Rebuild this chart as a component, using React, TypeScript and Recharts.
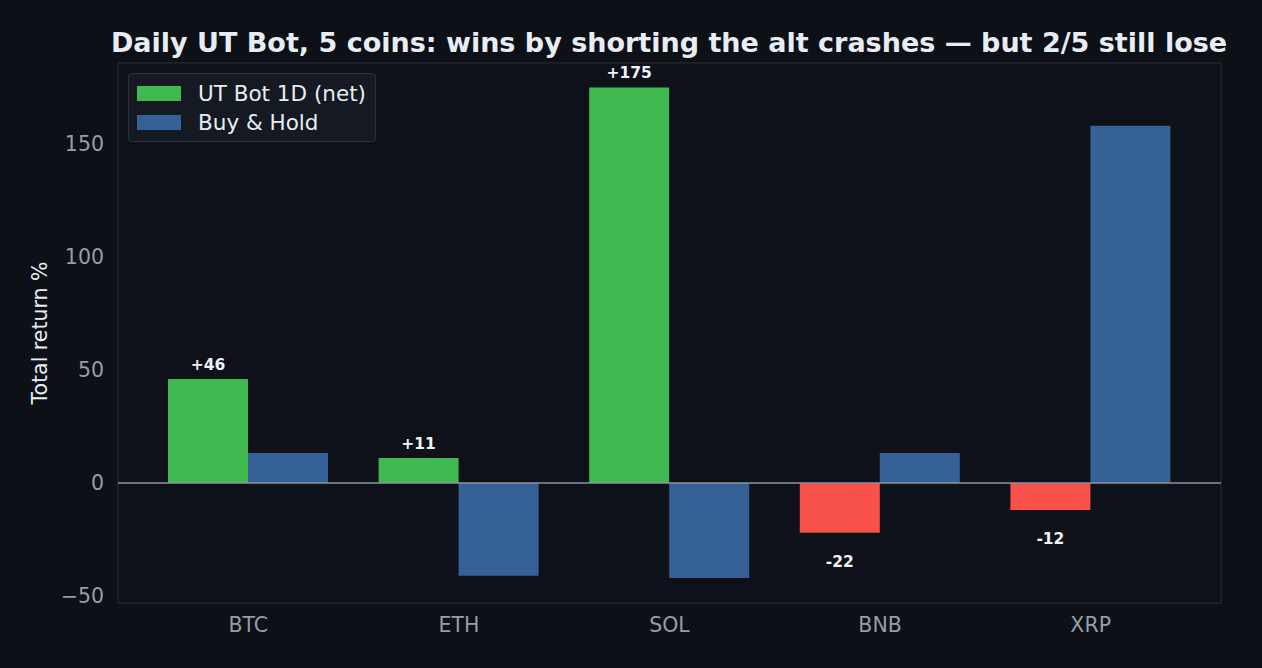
import { Bar, BarChart, CartesianGrid, Cell, LabelList, ReferenceLine, XAxis, YAxis } from 'recharts'

const coins = ['BTC', 'ETH', 'SOL', 'BNB', 'XRP']
const utBot = [46, 11, 175, -22, -12]
const buyHold = [13.3, -41, -42, 13.3, 158]
const yTicks = [-50, 0, 50, 100, 150]

const data = coins.map((c, i) => ({ coin: c, ut: utBot[i], bh: buyHold[i] }))

const font = 'DejaVu Sans, sans-serif'
const tick = { fill: '#959ea8', fontSize: 20.5, fontFamily: font }

function ValueLabel(props: any) {
  const { x, y, width, height, value } = props
  const neg = value < 0
  const yy = neg ? Math.max(y, y + height) + 34 : Math.min(y, y + height) - 9
  return (
    <text x={x + width / 2} y={yy} textAnchor="middle" fill="#f0f3f6" fontSize={15.5} fontWeight="bold" fontFamily={font}>
      {neg ? `${Math.round(value)}` : `+${Math.round(value)}`}
    </text>
  )
}

export default function App() {
  return (
    <div style={{ position: 'fixed', left: 0, top: 0, width: 1262, height: 668, background: '#0d1017', fontFamily: font }}>
      <div style={{ position: 'absolute', left: 0, width: 1338, top: 27, textAlign: 'center', color: '#e6edf3', fontSize: 27, fontWeight: 'bold', whiteSpace: 'nowrap' }}>
        Daily UT Bot, 5 coins: wins by shorting the alt crashes — but 2/5 still lose
      </div>
      <div style={{ position: 'absolute', left: 40, top: 333, transform: 'translate(-50%, -50%) rotate(-90deg)', color: '#e6edf3', fontSize: 20.5, whiteSpace: 'nowrap' }}>
        Total return %
      </div>
      <BarChart width={1262} height={668} data={data} margin={{ top: 63, right: 41, bottom: 0, left: 0 }} barGap={0} barCategoryGap={25}>
        <rect x={118} y={63} width={1103} height={540} fill="#0e1119" stroke="#262b34" />
        <CartesianGrid stroke="#1c2029" vertical={false} />
        <XAxis dataKey="coin" height={65} tick={tick} tickLine={false} axisLine={false} padding={{ left: 25, right: 25 }} tickMargin={8} />
        <YAxis width={118} domain={[-53.1, 185.8]} ticks={yTicks} tick={tick} tickLine={false} axisLine={false} tickMargin={8}
          tickFormatter={(v) => (v < 0 ? `−${-v}` : `${v}`)} />
        <ReferenceLine y={0} stroke="#8b949e" strokeWidth={1.5} />
        <Bar dataKey="ut" isAnimationActive={false}>
          {data.map((d) => <Cell key={d.coin} fill={d.ut >= 0 ? '#3fb950' : '#f85149'} />)}
          <LabelList dataKey="ut" content={ValueLabel} />
        </Bar>
        <Bar dataKey="bh" fill="#366196" isAnimationActive={false} />
      </BarChart>
      <div style={{ position: 'absolute', left: 128, top: 73, width: 248, height: 69, background: '#151a22', border: '1px solid #2d333b', borderRadius: 4, boxSizing: 'border-box', color: '#e6edf3', fontSize: 21.5, padding: '5px 8px' }}>
        {[['#3fb950', 'UT Bot 1D (net)'], ['#366196', 'Buy & Hold']].map(([c, t]) => (
          <div key={t} style={{ display: 'flex', alignItems: 'center', height: 29 }}>
            <span style={{ width: 44, height: 15, background: c, marginRight: 17 }} />
            {t}
          </div>
        ))}
      </div>
    </div>
  )
}
